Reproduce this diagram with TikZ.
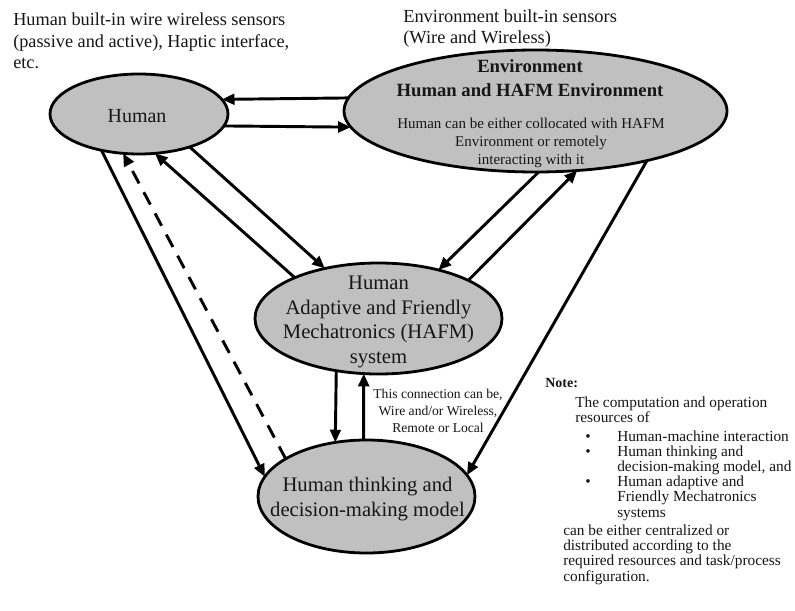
\documentclass[tikz,border=0pt]{standalone}
\usepackage{fontspec}
\setmainfont{Liberation Serif}
\usetikzlibrary{arrows.meta,shapes.geometric}
\definecolor{ellfill}{RGB}{192,192,192}
\definecolor{ink}{RGB}{22,22,22}
\newcommand\centerlines[1]{\vtop{\halign{\hfil##\hfil\cr#1\crcr}}}
\newcommand\leftlines[1]{\vtop{\halign{##\hfil\cr#1\crcr}}}
\newcommand\bul{\kern16.5pt\makebox[24pt][l]{\textbullet}}
\begin{document}
\begin{tikzpicture}[x=0.75pt,y=-0.75pt,
  ell/.style={ellipse, draw=black, line width=2.1pt, fill=ellfill, inner sep=0pt, outer sep=0pt},
  arr/.style={line width=2.2pt, draw=black, -{Triangle[length=9.5pt,width=8pt]}},
  dasharr/.style={arr, dash pattern=on 10.5pt off 7.5pt},
  txt/.style={inner sep=0pt, text=ink}]
\useasboundingbox[fill=white] (0,0) rectangle (795,610);

% ellipses
\node[ell, minimum width=133.5pt, minimum height=60pt] (hum) at (139,114) {};
\node[ell, minimum width=287.25pt, minimum height=91.5pt] (env) at (535.5,111) {};
\node[ell, minimum width=185.25pt, minimum height=83.25pt] (haf) at (378.5,318.5) {};
\node[ell, minimum width=162.75pt, minimum height=84.75pt] (thk) at (366.5,496.5) {};

% texts in ellipses
\node[txt, anchor=base, font=\fontsize{15}{18}\selectfont] (humt) at (137,122) {Human};
\node[txt, anchor=base, font=\fontsize{14}{17.6}\selectfont\bfseries] (envt) at (530,73)
  {\centerlines{Environment\cr Human and HAFM Environment}};
\node[txt, anchor=base, font=\fontsize{11.25}{13.5}\selectfont] (envn) at (531,128.3)
  {\centerlines{Human can be either collocated with HAFM\cr Environment or remotely\cr interacting with it}};
\node[txt, anchor=base, font=\fontsize{15.5}{18.5}\selectfont] (hafmt) at (378.5,289.5)
  {\centerlines{Human\cr Adaptive and Friendly\cr Mechatronics (HAFM)\cr system}};
\node[txt, anchor=base, font=\fontsize{15.5}{18.75}\selectfont] (thkt) at (367.5,491.7)
  {\centerlines{Human thinking and\cr decision-making model}};

% free texts
\node[txt, anchor=base west, font=\fontsize{13.7}{16.1}\selectfont] (hsens) at (13,26)
  {\leftlines{Human built-in wire wireless sensors\cr (passive and active), Haptic interface,\cr etc.}};
\node[txt, anchor=base west, font=\fontsize{13.8}{15.75}\selectfont] (esens) at (403,23)
  {\leftlines{Environment built-in sensors\cr (Wire and Wireless)}};
\node[txt, anchor=base, font=\fontsize{10.2}{12.75}\selectfont] (conn) at (438,398.3)
  {\centerlines{This connection can be,\cr Wire and/or Wireless,\cr Remote or Local}};
\node[txt, anchor=base west, font=\fontsize{10.5}{11}\selectfont\bfseries] (notet) at (545,387.5) {Note:};
\node[txt, anchor=base west, font=\fontsize{11.5}{11.4}\selectfont] (noteb) at (563,407.3)
  {\leftlines{\kern9pt The computation and operation\cr
  \kern9pt resources of\cr
  \noalign{\vskip2.5pt}
  \bul Human-machine interaction\cr
  \bul Human thinking and\cr
  \kern40.5pt decision-making model, and\cr
  \bul Human adaptive and\cr
  \kern40.5pt Friendly Mechatronics\cr
  \kern40.5pt systems\cr
  \noalign{\vskip2.5pt}
  can be either centralized or\cr
  distributed according to the\cr
  required resources and task/process\cr
  configuration.}};

% connectors
\draw[arr] (env.176.34) -- (hum.10.3);
\draw[arr] (hum.-8.04) -- (env.-175.38);
\draw[arr] (hum.-33.6) -- (haf.137.8);
\draw[arr] (haf.154.7) -- (hum.-68.5);
\draw[dasharr] (thk.155.3) -- (hum.-112.9);
\draw[arr] (hum.-136.5) -- (thk.169.8);
\draw[arr] (env.-87.65) -- (haf.39.2);
\draw[arr] (haf.23.9) -- (env.-55.1);
\draw[arr] (env.-24.56) -- (thk.12);
\draw[arr] (haf.-129.95) -- (thk.120.22);
\draw[arr] (thk.93.55) -- (haf.-105.72);
\end{tikzpicture}
\end{document}
